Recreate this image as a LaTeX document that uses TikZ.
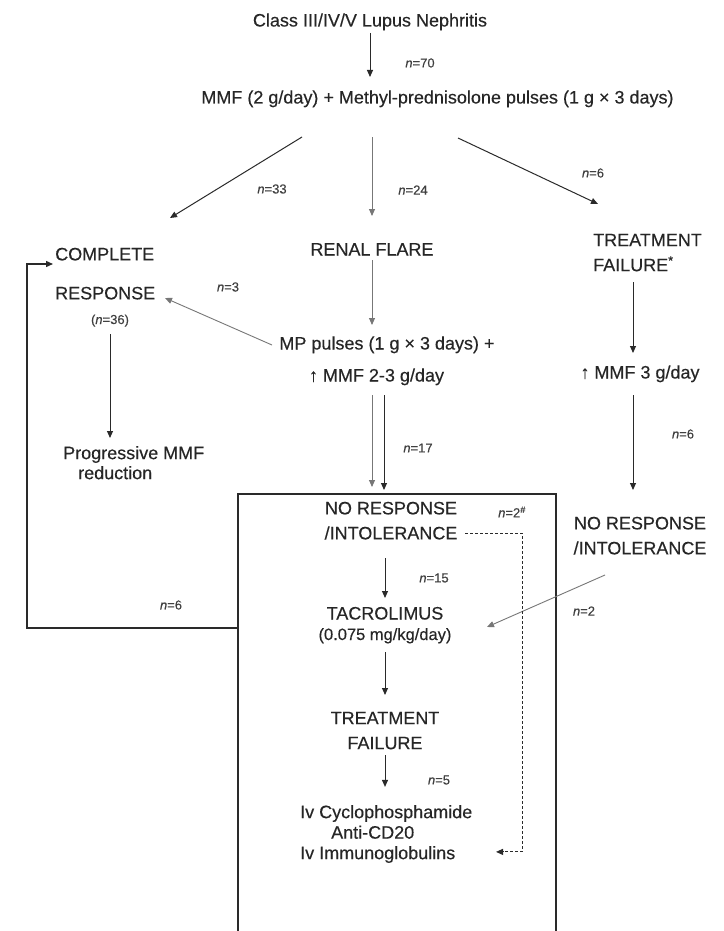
\documentclass[tikz,border=0pt]{standalone}
\usepackage{fontspec}
\setmainfont{Liberation Sans}[FakeBold=0.3]
\usetikzlibrary{arrows.meta,calc}
\definecolor{tc}{HTML}{262626}
\definecolor{ac}{HTML}{2A2A2A}
\definecolor{lc}{HTML}{777777}
\definecolor{nc}{HTML}{404040}
\begin{document}
\begin{tikzpicture}[x=1pt,y=-1pt,
  txt/.style={font=\fontsize{18}{25}\selectfont, text=tc, inner sep=0pt},
  lab/.style={font=\fontsize{13}{15}\selectfont, text=nc, inner sep=0pt},
  arr/.style={draw=ac, line width=1pt, -{Triangle[length=7pt,width=6pt]}},
  larr/.style={arr, draw=lc, line width=0.9pt},
  darr/.style={draw=ac, line width=1pt, dash pattern=on 3pt off 2pt, -{Triangle[length=7pt,width=6pt]}},
  frame/.style={draw=ac, line width=1.5pt}]
\useasboundingbox[fill=white] (0,0) rectangle (723,931);

% ---- nodes ----
\node[txt,anchor=base] (title) at (370,26.5) {Class III/IV/V Lupus Nephritis};
\node[txt,anchor=base] (mmf) at (437.5,103.5) {MMF (2 g/day) + Methyl-prednisolone pulses (1 g × 3 days)};
\node[txt,anchor=north west,align=left,font=\fontsize{18}{39}\selectfont] (cr) at (55,247.6) {COMPLETE\\RESPONSE};
\node[lab,anchor=base] (n36) at (110,324) {(\textit{n}=36)};
\node[txt,anchor=north west,align=left,font=\fontsize{18}{20}\selectfont] (prog) at (63,445.9) {Progressive MMF\\\hspace*{15pt}reduction};
\node[txt,anchor=base] (renal) at (372,255.5) {RENAL FLARE};
\node[txt,anchor=base] (mp1) at (387,349.5) {MP pulses (1 g × 3 days) +};
\node[txt,anchor=base] (mp2) at (376.5,381.5) {↑ MMF 2-3 g/day};
\node[txt,anchor=north west,align=left] (tfr) at (593,233.6) {TREATMENT\\FAILURE\textsuperscript{*}};
\node[txt,anchor=base] (mmf3) at (640,378.5) {↑ MMF 3 g/day};
\node[txt,anchor=north,align=center] (nrr) at (640,516.6) {NO RESPONSE\\/INTOLERANCE};
\node[txt,anchor=north,align=center] (nri) at (391,501.6) {NO RESPONSE\\/INTOLERANCE};
\node[txt,anchor=base] (tac) at (385,619.5) {TACROLIMUS};
\node[txt,anchor=base,font=\fontsize{16.5}{20}\selectfont] (dose) at (385,640) {(0.075 mg/kg/day)};
\node[txt,anchor=north,align=center] (tfi) at (385,711.6) {TREATMENT\\FAILURE};
\node[txt,anchor=north west,align=left,font=\fontsize{18}{20.5}\selectfont] (rx) at (300,804.9) {Iv Cyclophosphamide\\\hspace*{31pt}Anti-CD20\\Iv Immunoglobulins};

% ---- count labels ----
\node[lab] (n70) at (420,63) {\textit{n}=70};
\node[lab] (n33) at (272,189) {\textit{n}=33};
\node[lab] (n24) at (413,190) {\textit{n}=24};
\node[lab] (n6a) at (593,173) {\textit{n}=6};
\node[lab] (n3) at (228,287) {\textit{n}=3};
\node[lab] (n17) at (418,448) {\textit{n}=17};
\node[lab] (n6b) at (683,434) {\textit{n}=6};
\node[lab] (n2h) at (512,512) {\textit{n}=2\textsuperscript{\#}};
\node[lab] (n15) at (434,578) {\textit{n}=15};
\node[lab] (n6c) at (171,605) {\textit{n}=6};
\node[lab] (n2) at (584,611) {\textit{n}=2};
\node[lab] (n5) at (439,780) {\textit{n}=5};

% ---- frame (open at the bottom) ----
\coordinate (bxtl) at (238,494);
\coordinate (bxtr) at (556,494);
\coordinate (bxbl) at (238,931);
\coordinate (bxbr) at (556,931);
\draw[frame] (bxbl) -- (bxtl) -- (bxtr) -- (bxbr);

% ---- connectors ----
\draw[arr] ($(title.base)+(0,6.5)$) -- ($(mmf.base)+(-67.5,-26.5)$);
\draw[arr] ($(mmf.base)+(-135.5,33.5)$) -- ($(cr.north west)+(115,-29.6)$);
\draw[larr] ($(mmf.base)+(-65.5,33.5)$) -- ($(renal.base)+(0,-39.5)$);
\draw[arr] ($(mmf.base)+(20.5,34.5)$) -- ($(tfr.north west)+(5,-29.6)$);
\draw[larr] ($(renal.base)+(0,4.5)$) -- ($(mp1.base)+(-15,-24.5)$);
\draw[larr] ($(mp1.base)+(-115,-4.5)$) -- ($(cr.north west)+(110,50.4)$);
\draw[larr] ($(mp2.base)+(-4.5,13.5)$) -- ($(bxtl)+(134,-7)$);
\draw[arr] ($(mp2.base)+(7.5,13.5)$) -- ($(bxtl)+(146,-4)$);
\draw[arr] ($(n36.base)+(0,10)$) -- ($(prog.north west)+(47,-7.9)$);
\draw[arr] ($(tfr.north west)+(40,48.4)$) -- ($(mmf3.base)+(-7,-25.5)$);
\draw[arr] ($(mmf3.base)+(-7,16.5)$) -- ($(nrr.north)+(-7,-26.6)$);
\draw[larr] ($(nrr.north)+(-35,58.4)$) -- ($(tac.base)+(102,7.5)$);
\draw[arr] ($(nri.north)+(-6,56.4)$) -- ($(tac.base)+(0,-21.5)$);
\draw[arr] ($(dose.base)+(0,12)$) -- ($(tfi.north)+(0,-16.6)$);
\draw[arr] ($(tfi.north)+(0,43.4)$) -- ($(rx.north west)+(85,-18)$);
\draw[darr] ($(nri.north)+(74,31.4)$) -| ($(rx.north west)+(222,47)$) -- ($(rx.north west)+(196,47)$);
\coordinate (loopst) at ($(bxtl)+(0,134)$);
\draw[arr,line width=1.4pt] (loopst) -| ($(cr.north west)+(-28,16.4)$) -- ($(cr.north west)+(-2,16.4)$);
\end{tikzpicture}
\end{document}
